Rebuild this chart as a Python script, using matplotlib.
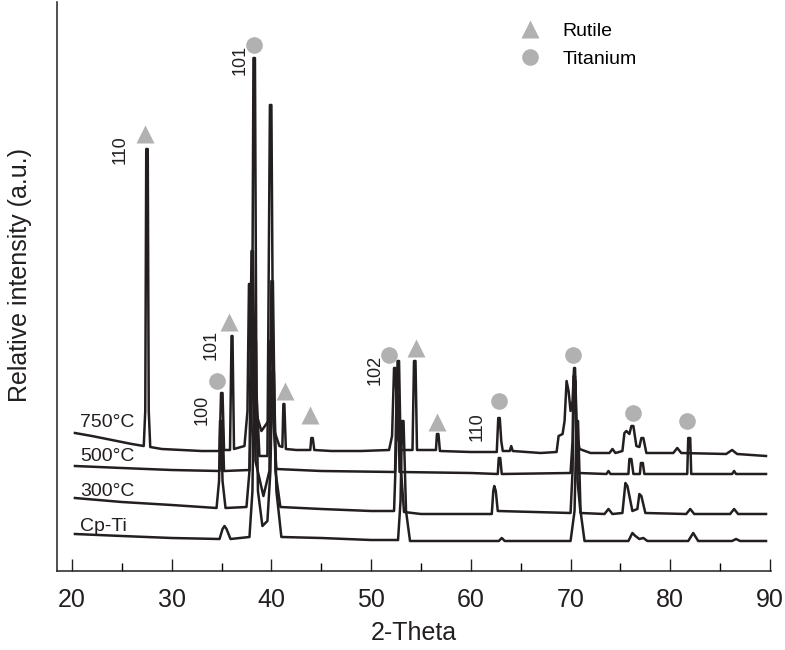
import matplotlib
matplotlib.use("Agg")
import matplotlib.pyplot as plt
from matplotlib.lines import Line2D
from matplotlib.ticker import MultipleLocator

plt.rcParams['font.family'] = ['Liberation Sans', 'DejaVu Sans']

###############
# XRD traces: 2-theta and intensity (a.u.), offset already included
t750 = [20.3, 22, 24, 26, 27.2, 27.35, 27.45, 27.6, 27.7, 27.85, 29, 31, 33, 34.8, 34.95, 35.1, 35.25,
        35.85, 36.0, 36.1, 36.25, 37.3, 37.6, 37.75, 37.85, 38.0, 38.25, 38.4, 39.0, 39.7, 39.9, 40.05,
        40.3, 40.8, 41.1, 41.2, 41.3, 41.45, 42.5, 43.9, 44.0, 44.15, 44.3, 46, 49, 51.8, 52.1, 52.3,
        52.45, 52.65, 53.0, 54.15, 54.3, 54.45, 54.6, 56.5, 56.6, 56.75, 56.9, 60, 62.6, 62.75, 62.9,
        63.05, 63.2, 63.9, 64.05, 64.2, 67, 68.6, 68.8, 69.2, 69.4, 69.6, 69.8, 70.0, 70.2, 70.35, 70.45,
        70.6, 70.9, 72, 73.9, 74.2, 74.5, 75.2, 75.4, 75.6, 75.9, 76.1, 76.3, 76.6, 76.9, 77.1, 77.3,
        77.6, 80.3, 80.7, 81.1, 85.6, 86.2, 86.7, 89.6]
i750 = [138, 135, 131, 127, 125, 160, 422, 422, 160, 124, 122, 121, 120, 120, 178, 178, 121,
        121, 235, 235, 122, 125, 160, 287, 287, 170, 200, 160, 140, 150, 230, 230,
        140, 125, 124, 167, 167, 122, 121, 121, 133, 133, 121, 120, 120, 121, 135, 203,
        203, 135, 121, 121, 210, 210, 121, 121, 137, 137, 120, 119, 119, 153, 153,
        130, 120, 120, 125, 120, 118, 119, 135, 137, 150, 190, 180, 160, 170, 203, 203,
        140, 122, 118, 118, 122, 118, 120, 138, 140, 137, 145, 145, 125, 124, 133, 133,
        118, 118, 123, 118, 117, 121, 117, 115]

t500 = [20.3, 25, 30, 34.8, 34.95, 35.1, 35.25, 37.8, 38.05, 38.2, 38.35, 38.5, 38.8, 39.6, 39.85,
        40.0, 40.2, 40.5, 45, 52.4, 52.55, 52.7, 52.85, 60, 62.7, 62.8, 62.95, 63.1, 70.0, 70.2, 70.3,
        70.45, 70.6, 70.8, 73.6, 73.8, 74.0, 75.8, 75.9, 76.1, 76.3, 76.95, 77.05, 77.25, 77.4, 81.7,
        81.8, 82.0, 82.1, 86.2, 86.4, 86.6, 89.6]
i500 = [105, 103, 101, 100, 150, 150, 100, 101, 180, 513, 513, 180, 115, 115, 466,
        466, 150, 102, 100, 99, 177, 177, 99, 98, 97, 113, 113, 97, 98, 130, 195,
        195, 125, 98, 97, 100, 97, 97, 112, 112, 97, 97, 108, 108, 97, 97,
        133, 133, 97, 97, 100, 97, 97]

t300 = [20.3, 25, 30, 34.5, 34.75, 34.85, 34.95, 35.1, 35.4, 37.5, 37.8, 38.0, 38.15, 38.4, 39.2,
        39.8, 40.0, 40.15, 40.4, 40.9, 45, 50, 52.3, 52.5, 52.65, 52.8, 53.0, 53.3, 55, 62.1, 62.25,
        62.35, 62.5, 62.7, 70, 70.2, 70.35, 70.5, 70.7, 71.0, 73.4, 73.8, 74.2, 75.2, 75.5, 75.7, 76.2,
        76.7, 76.9, 77.1, 77.5, 81.6, 82.0, 82.4, 86.0, 86.4, 86.8, 89.6]
i300 = [73, 69, 66, 63, 90, 150, 150, 90, 63, 64, 100, 320, 320, 110, 75,
        100, 290, 290, 100, 64, 62, 60, 60, 120, 210, 210, 100, 59, 57, 57, 80,
        85, 80, 60, 58, 100, 190, 190, 90, 58, 57, 62, 57, 58, 88, 85, 60,
        62, 77, 75, 58, 57, 62, 57, 57, 62, 57, 57]

tcp = [20.3, 25, 30, 34.8, 35.1, 35.3, 35.5, 35.9, 37.8, 38.1, 38.3, 38.45, 38.65, 39.1, 39.6, 39.9,
       40.1, 40.25, 40.5, 41.0, 45, 50, 52.7, 52.95, 53.1, 53.25, 53.5, 53.9, 60, 62.8, 63.1, 63.4,
       70, 70.4, 70.6, 70.75, 71.0, 71.4, 75.8, 76.2, 76.5, 76.9, 77.3, 77.7, 81.8, 82.3, 82.8, 86.2,
       86.6, 87.0, 89.6]
icp = [37, 35, 33, 32, 42, 45, 42, 32, 34, 80, 230, 230, 80, 45, 50, 100,
       200, 200, 80, 34, 33, 31, 31, 70, 150, 150, 60, 30, 30, 30, 33, 30,
       30, 60, 150, 150, 60, 30, 30, 38, 35, 32, 33, 30, 30, 38, 30, 30,
       32, 30, 30]

trace_names = ['750°C', '500°C', '300°C', 'Cp-Ti']
name_y = [144, 110, 75, 40]

# phase markers
rutile_x = [27.3, 35.7, 41.4, 43.9, 54.5, 56.6]
rutile_y = [437, 249, 180, 156, 223, 149]
ti_x = [38.3, 34.5, 51.8, 62.8, 70.2, 76.3, 81.7]
ti_y = [526, 190, 216, 170, 216, 158, 150]

# hkl labels (rotated)
hkl_text = ['110', '101', '101', '100', '102', '110']
hkl_x = [24.8, 36.85, 34.0, 33.1, 50.4, 60.6]
hkl_y = [421, 511, 226, 161, 201, 144]

################
ink = '#231f20'
gray = '#b1b1b1'

fig = plt.figure(figsize=(7.85, 6.5), dpi=100)
ax = fig.add_axes([57/785, 79/650, 714/785, 569/650])

for t, inten in [(t750, i750), (t500, i500), (t300, i300), (tcp, icp)]:
    ax.plot(t, inten, color=ink, lw=1.8, solid_joinstyle='round')

for name, y in zip(trace_names, name_y):
    ax.text(20.8, y, name, fontsize=14, color=ink, ha='left', va='baseline')

ax.plot(rutile_x, rutile_y, ls='none', marker='^', ms=13, color=gray, mec='none')
ax.plot(ti_x, ti_y, ls='none', marker='o', ms=12, color=gray, mec='none')

for s, x, y in zip(hkl_text, hkl_x, hkl_y):
    ax.text(x, y, s, rotation=90, fontsize=13, color=ink, ha='center', va='center')

handles = [Line2D([], [], ls='none', marker='^', ms=13, color=gray, mec='none'),
           Line2D([], [], ls='none', marker='o', ms=12, color=gray, mec='none')]
ax.legend(handles, ['Rutile', 'Titanium'], loc='upper left', bbox_to_anchor=(0.618, 0.995),
          frameon=False, fontsize=14, handletextpad=0.9, labelspacing=0.55, handlelength=1.5)

ax.set_xlim(18.5, 90.1)
ax.set_ylim(0, 569)
ax.xaxis.set_major_locator(MultipleLocator(10))
ax.xaxis.set_minor_locator(MultipleLocator(5))
ax.set_xticks(range(20, 91, 10))
ax.set_yticks([])
ax.tick_params(axis='x', which='major', direction='in', length=9, width=1, pad=12,
               labelsize=18, colors=ink)
ax.tick_params(axis='x', which='minor', direction='in', length=6, width=1)
ax.spines['top'].set_visible(False)
ax.spines['right'].set_visible(False)
for s in ['left', 'bottom']:
    ax.spines[s].set_linewidth(1.1)
    ax.spines[s].set_color(ink)

ax.set_xlabel('2-Theta', fontsize=18, color=ink, labelpad=7)
fig.text(20/785, 1 - 275/650, 'Relative intensity (a.u.)', rotation=90, fontsize=18,
         color=ink, ha='center', va='center')

fig.savefig('out.png', dpi=100)
